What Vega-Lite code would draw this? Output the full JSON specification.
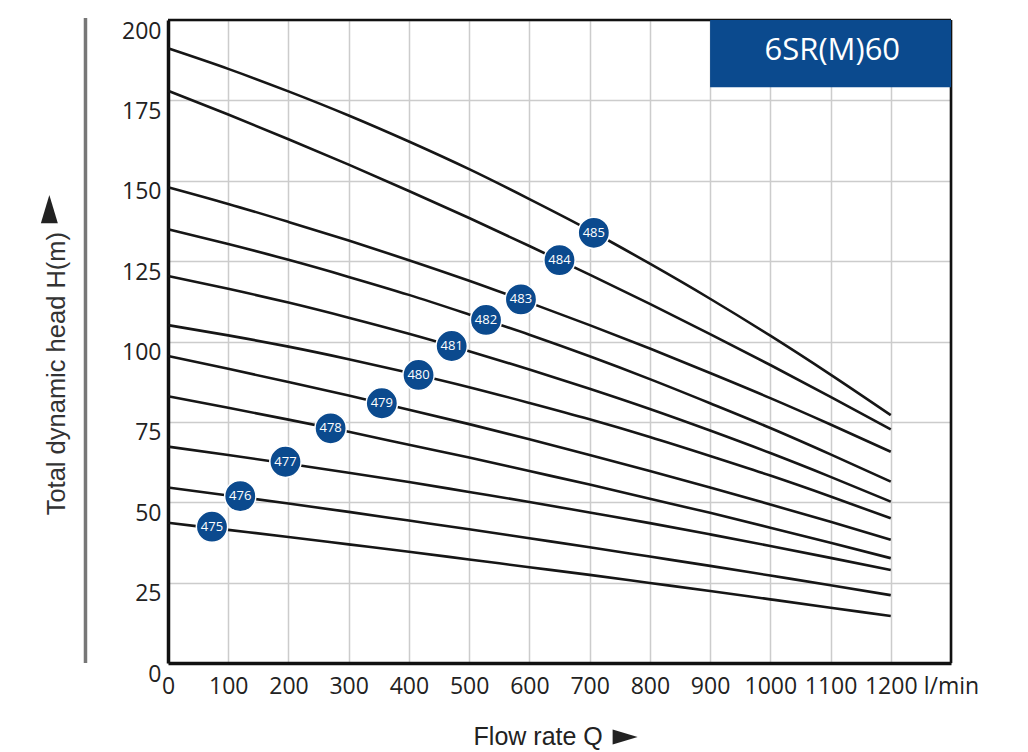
{
"$schema": "https://vega.github.io/schema/vega-lite/v6.json",
"width": 783, "height": 643,
"autosize": {"type": "none"},
"padding": {"left": 168, "top": 20, "right": 77, "bottom": 89},
"background": "white",
"config": {"font": "Open Sans", "view": {"stroke": null}},
"datasets": {
"curves": [
{"m":"485","Q":0,"H":191.2},{"m":"485","Q":100,"H":184.8},{"m":"485","Q":200,"H":177.8},{"m":"485","Q":300,"H":170.3},{"m":"485","Q":400,"H":162.2},{"m":"485","Q":500,"H":153.6},{"m":"485","Q":600,"H":144.3},{"m":"485","Q":700,"H":134.6},{"m":"485","Q":800,"H":124.2},{"m":"485","Q":900,"H":113.3},{"m":"485","Q":1000,"H":101.8},{"m":"485","Q":1100,"H":89.7},{"m":"485","Q":1200,"H":77.1},
{"m":"484","Q":0,"H":178.0},{"m":"484","Q":100,"H":170.6},{"m":"484","Q":200,"H":162.9},{"m":"484","Q":300,"H":155.0},{"m":"484","Q":400,"H":146.8},{"m":"484","Q":500,"H":138.4},{"m":"484","Q":600,"H":129.7},{"m":"484","Q":700,"H":120.8},{"m":"484","Q":800,"H":111.7},{"m":"484","Q":900,"H":102.3},{"m":"484","Q":1000,"H":92.7},{"m":"484","Q":1100,"H":82.8},{"m":"484","Q":1200,"H":72.7},
{"m":"483","Q":0,"H":148.0},{"m":"483","Q":100,"H":142.8},{"m":"483","Q":200,"H":137.2},{"m":"483","Q":300,"H":131.4},{"m":"483","Q":400,"H":125.3},{"m":"483","Q":500,"H":118.9},{"m":"483","Q":600,"H":112.1},{"m":"483","Q":700,"H":105.1},{"m":"483","Q":800,"H":97.8},{"m":"483","Q":900,"H":90.2},{"m":"483","Q":1000,"H":82.4},{"m":"483","Q":1100,"H":74.2},{"m":"483","Q":1200,"H":65.7},
{"m":"482","Q":0,"H":134.9},{"m":"482","Q":100,"H":130.3},{"m":"482","Q":200,"H":125.4},{"m":"482","Q":300,"H":120.1},{"m":"482","Q":400,"H":114.5},{"m":"482","Q":500,"H":108.4},{"m":"482","Q":600,"H":102.1},{"m":"482","Q":700,"H":95.4},{"m":"482","Q":800,"H":88.3},{"m":"482","Q":900,"H":80.8},{"m":"482","Q":1000,"H":73.1},{"m":"482","Q":1100,"H":64.9},{"m":"482","Q":1200,"H":56.4},
{"m":"481","Q":0,"H":120.4},{"m":"481","Q":100,"H":116.4},{"m":"481","Q":200,"H":112.1},{"m":"481","Q":300,"H":107.4},{"m":"481","Q":400,"H":102.4},{"m":"481","Q":500,"H":97.0},{"m":"481","Q":600,"H":91.3},{"m":"481","Q":700,"H":85.3},{"m":"481","Q":800,"H":79.0},{"m":"481","Q":900,"H":72.3},{"m":"481","Q":1000,"H":65.3},{"m":"481","Q":1100,"H":57.9},{"m":"481","Q":1200,"H":50.2},
{"m":"480","Q":0,"H":105.1},{"m":"480","Q":100,"H":101.9},{"m":"480","Q":200,"H":98.4},{"m":"480","Q":300,"H":94.5},{"m":"480","Q":400,"H":90.3},{"m":"480","Q":500,"H":85.8},{"m":"480","Q":600,"H":80.9},{"m":"480","Q":700,"H":75.8},{"m":"480","Q":800,"H":70.3},{"m":"480","Q":900,"H":64.4},{"m":"480","Q":1000,"H":58.3},{"m":"480","Q":1100,"H":51.8},{"m":"480","Q":1200,"H":45.0},
{"m":"479","Q":0,"H":95.5},{"m":"479","Q":100,"H":91.5},{"m":"479","Q":200,"H":87.4},{"m":"479","Q":300,"H":83.2},{"m":"479","Q":400,"H":78.8},{"m":"479","Q":500,"H":74.3},{"m":"479","Q":600,"H":69.6},{"m":"479","Q":700,"H":64.7},{"m":"479","Q":800,"H":59.7},{"m":"479","Q":900,"H":54.6},{"m":"479","Q":1000,"H":49.3},{"m":"479","Q":1100,"H":43.9},{"m":"479","Q":1200,"H":38.3},
{"m":"478","Q":0,"H":83.0},{"m":"478","Q":100,"H":79.4},{"m":"478","Q":200,"H":75.7},{"m":"478","Q":300,"H":71.9},{"m":"478","Q":400,"H":67.9},{"m":"478","Q":500,"H":63.9},{"m":"478","Q":600,"H":59.7},{"m":"478","Q":700,"H":55.5},{"m":"478","Q":800,"H":51.1},{"m":"478","Q":900,"H":46.7},{"m":"478","Q":1000,"H":42.1},{"m":"478","Q":1100,"H":37.4},{"m":"478","Q":1200,"H":32.6},
{"m":"477","Q":0,"H":67.3},{"m":"477","Q":100,"H":64.7},{"m":"477","Q":200,"H":62.0},{"m":"477","Q":300,"H":59.2},{"m":"477","Q":400,"H":56.3},{"m":"477","Q":500,"H":53.2},{"m":"477","Q":600,"H":50.1},{"m":"477","Q":700,"H":46.8},{"m":"477","Q":800,"H":43.5},{"m":"477","Q":900,"H":40.0},{"m":"477","Q":1000,"H":36.4},{"m":"477","Q":1100,"H":32.7},{"m":"477","Q":1200,"H":28.9},
{"m":"476","Q":0,"H":54.6},{"m":"476","Q":100,"H":52.1},{"m":"476","Q":200,"H":49.6},{"m":"476","Q":300,"H":47.0},{"m":"476","Q":400,"H":44.3},{"m":"476","Q":500,"H":41.6},{"m":"476","Q":600,"H":38.8},{"m":"476","Q":700,"H":36.0},{"m":"476","Q":800,"H":33.1},{"m":"476","Q":900,"H":30.2},{"m":"476","Q":1000,"H":27.2},{"m":"476","Q":1100,"H":24.2},{"m":"476","Q":1200,"H":21.1},
{"m":"475","Q":0,"H":43.6},{"m":"475","Q":100,"H":41.4},{"m":"475","Q":200,"H":39.2},{"m":"475","Q":300,"H":36.9},{"m":"475","Q":400,"H":34.6},{"m":"475","Q":500,"H":32.2},{"m":"475","Q":600,"H":29.8},{"m":"475","Q":700,"H":27.4},{"m":"475","Q":800,"H":24.9},{"m":"475","Q":900,"H":22.4},{"m":"475","Q":1000,"H":19.8},{"m":"475","Q":1100,"H":17.2},{"m":"475","Q":1200,"H":14.6}
],
"labels": [
{"m":"475","Q":73,"H":42.4},{"m":"476","Q":120,"H":51.9},{"m":"477","Q":195,"H":62.6},{"m":"478","Q":270,"H":73.0},{"m":"479","Q":355,"H":80.8},{"m":"480","Q":416,"H":89.6},{"m":"481","Q":471,"H":98.6},{"m":"482","Q":528,"H":106.7},{"m":"483","Q":586,"H":113.1},{"m":"484","Q":650,"H":125.3},{"m":"485","Q":707,"H":133.8}
]
},
"layer": [
{
"data": {"name": "curves"},
"mark": {"type": "line", "color": "#161616", "strokeWidth": 2.6, "interpolate": "monotone"},
"encoding": {
"x": {"field": "Q", "type": "quantitative", "scale": {"domain": [0, 1300], "nice": false, "zero": false},
"axis": {"values": [0,100,200,300,400,500,600,700,800,900,1000,1100,1200,1300], "format": "d",
"labelExpr": "datum.value == 1300 ? 'l/min' : datum.label",
"grid": true, "gridColor": "#cccccc", "gridWidth": 1.5, "domain": true, "domainColor": "#111111", "domainWidth": 3.5, "ticks": false, "tickSize": 0,
"labelFontSize": 23, "labelColor": "#222", "labelPadding": 12, "labelFlush": false, "labelOverlap": false,
"title": null}},
"y": {"field": "H", "type": "quantitative", "scale": {"domain": [0, 200], "nice": false, "zero": false},
"axis": {"values": [0,25,50,75,100,125,150,175,200],
"grid": true, "gridColor": "#cccccc", "gridWidth": 1.5, "domain": true, "domainColor": "#111111", "domainWidth": 3.5, "ticks": false, "tickSize": 0,
"labelFontSize": 23, "labelColor": "#222", "labelPadding": 7, "labelBaseline": "top", "labelFlush": false, "labelOverlap": false,
"title": null}},
"detail": {"field": "m"}
}
},
{
"data": {"values": [{}]},
"mark": {"type": "rule", "color": "#111111", "strokeWidth": 2.6},
"encoding": {"x": {"datum": 0, "type": "quantitative"}, "x2": {"datum": 1300}, "y": {"datum": 200, "type": "quantitative"}}
},
{
"data": {"values": [{}]},
"mark": {"type": "rule", "color": "#111111", "strokeWidth": 2.6},
"encoding": {"x": {"datum": 1300, "type": "quantitative"}, "y": {"datum": 200, "type": "quantitative"}, "y2": {"datum": 0}}
},
{
"data": {"name": "labels"},
"mark": {"type": "point", "shape": "circle", "filled": true, "size": 980, "color": "#0b4a8e", "stroke": "white", "strokeWidth": 1.5, "opacity": 1},
"encoding": {"x": {"field": "Q", "type": "quantitative"}, "y": {"field": "H", "type": "quantitative"}}
},
{
"data": {"name": "labels"},
"mark": {"type": "text", "color": "white", "fontSize": 13, "baseline": "middle", "align": "center"},
"encoding": {"x": {"field": "Q", "type": "quantitative"}, "y": {"field": "H", "type": "quantitative"}, "text": {"field": "m"}}
},
{
"data": {"values": [{}]},
"mark": {"type": "rect", "color": "#0b4a8e"},
"encoding": {"x": {"datum": 900, "type": "quantitative"}, "x2": {"datum": 1300}, "y": {"datum": 200, "type": "quantitative"}, "y2": {"datum": 179.1}}
},
{
"data": {"values": [{}]},
"mark": {"type": "text", "color": "white", "fontSize": 31, "baseline": "middle", "align": "center", "text": "6SR(M)60"},
"encoding": {"x": {"datum": 1103, "type": "quantitative"}, "y": {"datum": 190.4, "type": "quantitative"}}
},
{
"data": {"values": [{}]},
"mark": {"type": "rule", "color": "#777777", "strokeWidth": 3.5},
"encoding": {"x": {"datum": -137, "type": "quantitative"}, "y": {"datum": 200.6, "type": "quantitative"}, "y2": {"datum": 0}}
},
{
"data": {"values": [{}]},
"mark": {"type": "text", "color": "#333333", "font": "Liberation Sans", "fontSize": 25.5, "angle": 270, "baseline": "middle", "align": "center", "text": "Total dynamic head H(m)"},
"encoding": {"x": {"datum": -183.7, "type": "quantitative"}, "y": {"datum": 90.0, "type": "quantitative"}}
},
{
"data": {"values": [{}]},
"mark": {"type": "point", "shape": "M -0.6 1 L 0 -1 L 0.6 1 Z", "filled": true, "size": 800, "color": "#222222", "opacity": 1},
"encoding": {"x": {"datum": -197, "type": "quantitative"}, "y": {"datum": 141.2, "type": "quantitative"}}
},
{
"data": {"values": [{}]},
"mark": {"type": "text", "color": "#222222", "font": "Liberation Sans", "fontSize": 25, "baseline": "middle", "align": "center", "text": "Flow rate Q"},
"encoding": {"x": {"datum": 614.6, "type": "quantitative"}, "y": {"datum": -23.0, "type": "quantitative"}}
},
{
"data": {"values": [{}]},
"mark": {"type": "point", "shape": "M -1 -0.6 L 1 0 L -1 0.6 Z", "filled": true, "size": 625, "color": "#222222", "opacity": 1},
"encoding": {"x": {"datum": 759, "type": "quantitative"}, "y": {"datum": -23.0, "type": "quantitative"}}
}
]
}
